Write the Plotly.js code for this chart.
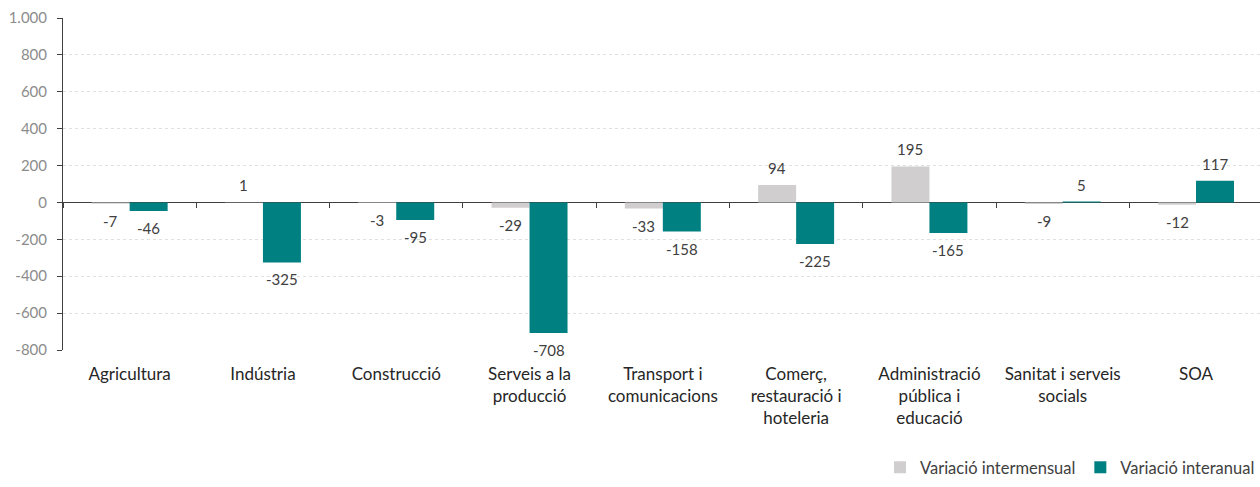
<!DOCTYPE html>
<html>
<head>
<meta charset="utf-8">
<script src="https://cdn.plot.ly/plotly-3.0.1.min.js"></script>
<style>html,body{margin:0;padding:0;background:#fff;}#chart{width:1260px;height:487px;}</style>
</head>
<body>
<div id="chart"></div>
<script>
const categories = ["Agricultura", "Indústria", "Construcció", "Serveis a la<br>producció", "Transport i<br>comunicacions", "Comerç,<br>restauració i<br>hoteleria", "Administració<br>pública i<br>educació", "Sanitat i serveis<br>socials", "SOA"];
const intermensual = [-7, 1, -3, -29, -33, 94, 195, -9, -12];
const interanual = [-46, -325, -95, -708, -158, -225, -165, 5, 117];
const seriesNames = ["Variació intermensual", "Variació interanual"];
const yTickVals = [-800, -600, -400, -200, 0, 200, 400, 600, 800, 1000];
const yTickText = ["-800", "-600", "-400", "-200", "0", "200", "400", "600", "800", "1.000"];

const FONT = "Lato, 'Open Sans', sans-serif";
const labelFont = {family: FONT, size: 15, color: "#404040"};

const traces = [
  {type: "bar", name: seriesNames[0], x: categories, y: intermensual,
   marker: {color: "#d0cece"}, hoverinfo: "x+y"},
  {type: "bar", name: seriesNames[1], x: categories, y: interanual,
   marker: {color: "#008080"}, hoverinfo: "x+y"},
  {type: "scatter", mode: "none", x: categories, y: categories.map(() => null),
   xaxis: "x2", showlegend: false, hoverinfo: "skip"}
];

// data labels placed through the axes at each bar's value
const annotations = [];
[intermensual, interanual].forEach((vals, s) => {
  vals.forEach((v, i) => {
    annotations.push({
      x: categories[i], y: v, xref: "x", yref: "y", text: String(v), showarrow: false,
      xshift: s === 0 ? -19 : 19, yanchor: v >= 0 ? "bottom" : "top", yshift: v >= 0 ? 6 : -6,
      font: labelFont
    });
  });
});

const xr = [-0.5, 8.48];
const layout = {
  width: 1260, height: 487,
  margin: {l: 63, r: 0, t: 18, b: 137},
  paper_bgcolor: "#fff", plot_bgcolor: "#fff",
  font: {family: FONT, size: 17, color: "#262626"},
  barmode: "group", bargap: 0.43, bargroupgap: 0,
  showlegend: true,
  annotations: annotations,
  legend: {orientation: "h", x: 1, xanchor: "right", yref: "container", y: 0.004, yanchor: "bottom",
           font: {family: FONT, size: 16.5, color: "#404040"}, traceorder: "normal", itemwidth: 30},
  xaxis: {type: "category", categoryarray: categories, range: xr, showline: false, ticks: "",
          showgrid: false, zeroline: false, ticklabelstandoff: 12,
          tickfont: {family: FONT, size: 17, color: "#262626"}},
  xaxis2: {type: "category", categoryarray: categories, range: xr, overlaying: "x", anchor: "free",
           position: 0.4444, side: "bottom", showline: false, showgrid: false, zeroline: false,
           ticks: "outside", tickson: "boundaries", ticklen: 5, tickcolor: "#404040", tickwidth: 1,
           showticklabels: false},
  yaxis: {range: [-800, 1000], tickvals: yTickVals, ticktext: yTickText, showline: true,
          linecolor: "#404040", linewidth: 1, ticks: "outside", ticklen: 5, tickcolor: "#404040",
          showgrid: true, gridcolor: "#e0e0e0", griddash: "dot", gridwidth: 1,
          zeroline: true, zerolinecolor: "#404040", zerolinewidth: 1, ticklabelstandoff: 7,
          tickfont: {family: FONT, size: 15, color: "#8c8c8c"}}
};

Plotly.newPlot("chart", traces, layout, {displayModeBar: false, staticPlot: true});
</script>
</body>
</html>
